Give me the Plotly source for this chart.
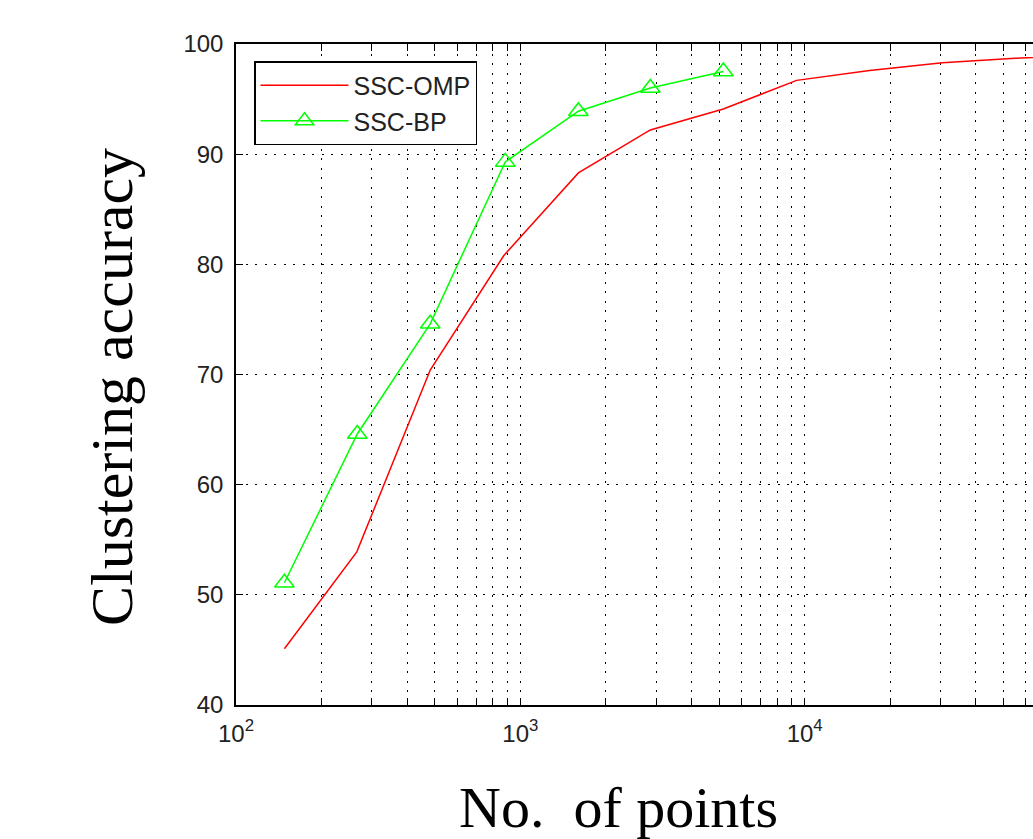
import plotly.graph_objects as go

# ---- data ----
omp_x = [148, 266, 482, 875, 1600, 2865, 5175, 9370, 16900, 30500, 55000, 99000]
omp_y = [45.1, 53.9, 70.4, 80.8, 88.3, 92.2, 94.1, 96.7, 97.6, 98.3, 98.7, 99.0]

bp_x = [148, 267, 482, 885, 1600, 2865, 5175]
bp_y = [51.1, 64.6, 74.6, 89.3, 93.9, 96.0, 97.5]

x_major = [100, 1000, 10000, 100000]
x_major_text = ["10<sup>2</sup>", "10<sup>3</sup>", "10<sup>4</sup>", "10<sup>5</sup>"]
x_minor = [m * d for d in (100, 1000, 10000) for m in range(2, 10)]
y_ticks = [40, 50, 60, 70, 80, 90, 100]

tick_font = dict(family="Liberation Sans, Arial, sans-serif", size=24, color="#222")
title_font = dict(family="Liberation Serif, Times New Roman, serif", size=58, color="black")
ytitle_font = dict(family="Liberation Serif, Times New Roman, serif", size=60, color="black")
grid_dash = "2px,7.5px"

W, H = 1033, 839
L, R, T, B = 236, 0, 44, 134
PW, PH = W - L - R, H - T - B


def px_x(v):
    return (v - L) / PW


def px_y(v):
    return (H - B - v) / PH


fig = go.Figure()
fig.add_trace(go.Scatter(
    x=omp_x, y=omp_y, mode="lines", name="SSC-OMP",
    line=dict(color="#ff0000", width=1.5),
))
fig.add_trace(go.Scatter(
    x=bp_x, y=bp_y, mode="lines+markers", name="SSC-BP",
    line=dict(color="#00ff00", width=1.5),
    marker=dict(symbol="triangle-up-open", size=17, color="#00ff00",
                line=dict(width=1.5, color="#00ff00")),
))

fig.update_layout(
    width=W, height=H,
    margin=dict(l=L, r=R, t=T, b=B, autoexpand=False),
    paper_bgcolor="white", plot_bgcolor="white",
    showlegend=True,
    legend=dict(
        x=px_x(254), y=px_y(61), xanchor="left", yanchor="top",
        bgcolor="white", bordercolor="black", borderwidth=1.5,
        font=dict(family="Liberation Sans, Arial, sans-serif", size=25, color="#222"),
        itemwidth=88, tracegroupgap=3,
    ),
    xaxis=dict(
        type="log", range=[2, 4.803],
        tickmode="array", tickvals=x_major, ticktext=x_major_text,
        ticks="inside", ticklen=7, tickwidth=1, tickcolor="black",
        showline=True, linecolor="black", linewidth=1.5, mirror="allticks",
        showgrid=True, gridcolor="black", gridwidth=1, griddash=grid_dash,
        zeroline=False, tickfont=tick_font, ticklabelstandoff=6,
        minor=dict(tickmode="array", tickvals=x_minor, ticks="inside", ticklen=7,
                   tickwidth=1, tickcolor="black", showgrid=True, gridcolor="black",
                   gridwidth=1, griddash=grid_dash),
    ),
    yaxis=dict(
        range=[40, 100], tickmode="array", tickvals=y_ticks,
        ticks="inside", ticklen=7, tickwidth=1, tickcolor="black",
        showline=True, linecolor="black", linewidth=1.5, mirror=False,
        showgrid=True, gridcolor="black", gridwidth=1, griddash=grid_dash,
        zeroline=False, tickfont=tick_font, ticklabelstandoff=6,
    ),
    annotations=[
        dict(text="No.\u00a0 of points", xref="paper", yref="paper",
             x=px_x(618), y=px_y(807), xanchor="center", yanchor="middle",
             showarrow=False, font=title_font),
        dict(text="Clustering accuracy", xref="paper", yref="paper",
             x=px_x(112), y=px_y(387), xanchor="center", yanchor="middle",
             textangle=-90, showarrow=False, font=ytitle_font),
    ],
)

fig.write_html("out.html", config={"displayModeBar": False},
               post_script="document.body.style.margin='0';document.body.style.overflow='hidden';")
